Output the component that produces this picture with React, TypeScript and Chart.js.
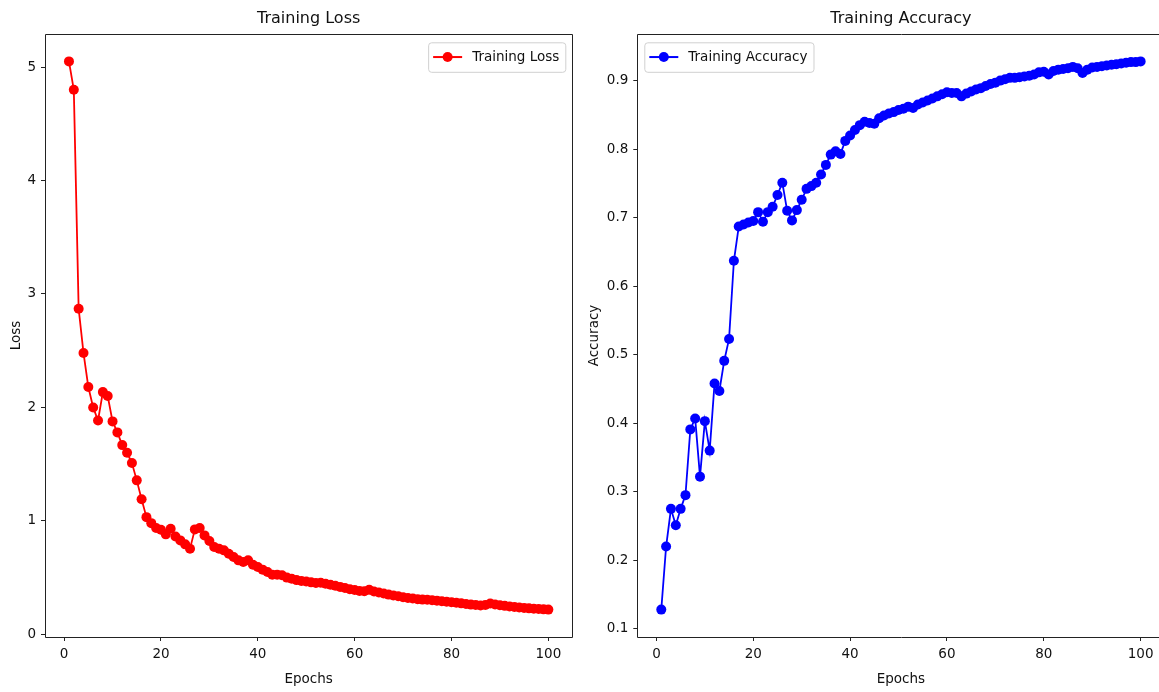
import React, { useEffect, useRef } from "react";
import { Chart, registerables } from "chart.js";

Chart.register(...registerables);

const EPOCHS = [
  1, 2, 3, 4, 5, 6, 7, 8, 9, 10, 11, 12, 13, 14, 15, 16, 17, 18, 19, 20,
  21, 22, 23, 24, 25, 26, 27, 28, 29, 30, 31, 32, 33, 34, 35, 36, 37, 38, 39, 40,
  41, 42, 43, 44, 45, 46, 47, 48, 49, 50, 51, 52, 53, 54, 55, 56, 57, 58, 59, 60,
  61, 62, 63, 64, 65, 66, 67, 68, 69, 70, 71, 72, 73, 74, 75, 76, 77, 78, 79, 80,
  81, 82, 83, 84, 85, 86, 87, 88, 89, 90, 91, 92, 93, 94, 95, 96, 97, 98, 99, 100,
];

const LOSS = [
  5.05, 4.8, 2.87, 2.48, 2.18, 2.0, 1.885, 2.135, 2.1, 1.877,
  1.78, 1.668, 1.6, 1.51, 1.357, 1.19, 1.033, 0.98, 0.937, 0.922,
  0.881, 0.93, 0.863, 0.828, 0.793, 0.755, 0.925, 0.937, 0.872, 0.822,
  0.769, 0.755, 0.74, 0.711, 0.681, 0.652, 0.637, 0.652, 0.614, 0.593,
  0.57, 0.549, 0.525, 0.526, 0.52, 0.5, 0.49, 0.478, 0.47, 0.465,
  0.458, 0.452, 0.455, 0.445, 0.437, 0.428, 0.418, 0.408, 0.398, 0.39,
  0.382, 0.38, 0.392, 0.378, 0.368, 0.36, 0.35, 0.342, 0.335, 0.327,
  0.32, 0.316, 0.31, 0.306, 0.304, 0.3, 0.297, 0.292, 0.287, 0.282,
  0.279, 0.273, 0.268, 0.262, 0.258, 0.255, 0.258, 0.272, 0.263, 0.256,
  0.251, 0.246, 0.241, 0.237, 0.233, 0.229, 0.226, 0.223, 0.22, 0.218,
];

const ACCURACY = [
  0.128, 0.22, 0.275, 0.251, 0.275, 0.295, 0.391, 0.407, 0.322, 0.403,
  0.36, 0.458, 0.447, 0.491, 0.523, 0.637, 0.687, 0.69, 0.693, 0.695,
  0.708, 0.694, 0.708, 0.716, 0.733, 0.751, 0.71, 0.696, 0.711, 0.726,
  0.742, 0.746, 0.751, 0.763, 0.777, 0.792, 0.797, 0.793, 0.812, 0.82,
  0.828, 0.835, 0.84, 0.838, 0.837, 0.845, 0.849, 0.852, 0.854, 0.857,
  0.859, 0.862, 0.86, 0.865, 0.868, 0.871, 0.874, 0.877, 0.88, 0.883,
  0.882, 0.882, 0.877, 0.881, 0.884, 0.887, 0.889, 0.892, 0.895, 0.897,
  0.9, 0.902, 0.904, 0.904, 0.905, 0.906, 0.907, 0.909, 0.912, 0.913,
  0.909, 0.914, 0.916, 0.917, 0.918, 0.92, 0.918, 0.911, 0.916, 0.919,
  0.92, 0.921, 0.922, 0.923, 0.924, 0.925, 0.926, 0.927, 0.927, 0.928,
];

const X_TICKS = [0, 20, 40, 60, 80, 100];
const LOSS_TICKS = [0, 1, 2, 3, 4, 5];
const ACC_TICKS = [0.1, 0.2, 0.3, 0.4, 0.5, 0.6, 0.7, 0.8, 0.9];

const FONT = "'DejaVu Sans', sans-serif";
const SMALL = 13.5;
const BIG = 16;
const INK = "#111111";

type PanelProps = {
  values: number[];
  color: string;
  title: string;
  yLabel: string;
  legendLabel: string;
  legendLoc: "left" | "right";
  yTicks: number[];
  yDecimals: number;
  canvasLeft: number;
  canvasWidth: number;
  axisWidth: number;
  padRight: number;
  yLabelX: number;
  drawRightSpine: boolean;
};

function margins(vals: number[]) {
  const lo = Math.min(...vals);
  const hi = Math.max(...vals);
  const m = (hi - lo) * 0.05;
  return [lo - m, hi + m];
}

function Panel(p: PanelProps) {
  const ref = useRef<HTMLCanvasElement | null>(null);

  useEffect(() => {
    const canvas = ref.current;
    if (!canvas) return;
    const [xmin, xmax] = margins(EPOCHS);
    const [ymin, ymax] = margins(p.values);

    const decor = {
      id: "decor",
      afterDraw(chart: any) {
        const ctx = chart.ctx as CanvasRenderingContext2D;
        const a = chart.chartArea;
        ctx.save();
        // spines
        const L = Math.round(a.left) + 0.5;
        const R = Math.round(a.right) + 0.5;
        const T = Math.round(a.top) + 0.5;
        const B = Math.round(a.bottom) + 0.5;
        ctx.strokeStyle = "#222222";
        ctx.lineWidth = 1;
        ctx.beginPath();
        ctx.moveTo(L, B);
        ctx.lineTo(L, T);
        ctx.lineTo(R, T);
        if (p.drawRightSpine) {
          ctx.lineTo(R, B);
        } else {
          ctx.moveTo(R, B);
        }
        ctx.lineTo(L, B);
        ctx.stroke();
        const cx = (a.left + a.right) / 2;
        // title
        ctx.fillStyle = INK;
        ctx.font = `${BIG}px ${FONT}`;
        ctx.textAlign = "center";
        ctx.textBaseline = "middle";
        ctx.fillText(p.title, cx, 18.5);
        // x label
        ctx.font = `${SMALL}px ${FONT}`;
        ctx.fillText("Epochs", cx, 679);
        // y label
        ctx.save();
        ctx.translate(p.yLabelX, (a.top + a.bottom) / 2);
        ctx.rotate(-Math.PI / 2);
        ctx.fillText(p.yLabel, 0, 0);
        ctx.restore();
        // legend
        ctx.font = `${SMALL}px ${FONT}`;
        const tw = ctx.measureText(p.legendLabel).width;
        const bw = 44 + tw + 6;
        const bh = 29.5;
        const bx = p.legendLoc === "right" ? a.right - 7 - bw : a.left + 7;
        const by = a.top + 8.3;
        ctx.beginPath();
        if ((ctx as any).roundRect) {
          (ctx as any).roundRect(bx + 0.5, by + 0.5, bw, bh, 3);
        } else {
          ctx.rect(bx + 0.5, by + 0.5, bw, bh);
        }
        ctx.fillStyle = "rgba(255,255,255,0.8)";
        ctx.fill();
        ctx.strokeStyle = "#d0d0d0";
        ctx.lineWidth = 1;
        ctx.stroke();
        const ly = by + bh / 2;
        ctx.strokeStyle = p.color;
        ctx.lineWidth = 2;
        ctx.beginPath();
        ctx.moveTo(bx + 5, ly);
        ctx.lineTo(bx + 34, ly);
        ctx.stroke();
        ctx.fillStyle = p.color;
        ctx.beginPath();
        ctx.arc(bx + 19.5, ly, 5, 0, Math.PI * 2);
        ctx.fill();
        ctx.fillStyle = INK;
        ctx.textAlign = "left";
        ctx.textBaseline = "middle";
        ctx.fillText(p.legendLabel, bx + 44, ly + 0.5);
        ctx.restore();
      },
    };

    const chart = new Chart(canvas, {
      type: "line",
      data: {
        datasets: [
          {
            label: p.legendLabel,
            data: EPOCHS.map((e, i) => ({ x: e, y: p.values[i] })),
            borderColor: p.color,
            backgroundColor: p.color,
            borderWidth: 1.8,
            pointRadius: 5,
            pointHoverRadius: 5,
            pointBorderWidth: 0,
            pointBackgroundColor: p.color,
            pointBorderColor: p.color,
            tension: 0,
            fill: false,
          },
        ],
      },
      options: {
        responsive: false,
        animation: false,
        events: [],
        layout: { padding: { left: 0, top: 34, right: p.padRight, bottom: 0 } },
        plugins: {
          legend: { display: false },
          title: { display: false },
          tooltip: { enabled: false },
        },
        scales: {
          x: {
            type: "linear",
            min: xmin,
            max: xmax,
            afterBuildTicks: (s: any) => {
              s.ticks = X_TICKS.map((v) => ({ value: v }));
            },
            afterFit: (s: any) => {
              s.height = 55;
              s.paddingLeft = 0;
              s.paddingRight = 0;
            },
            grid: {
              drawOnChartArea: false,
              drawTicks: true,
              tickLength: 4,
              color: "#222222",
              lineWidth: 1,
            },
            border: { display: false },
            ticks: {
              autoSkip: false,
              maxRotation: 0,
              minRotation: 0,
              padding: 5,
              color: INK,
              font: { family: FONT, size: SMALL },
              callback: (v: any) => String(v),
            },
          },
          y: {
            type: "linear",
            min: ymin,
            max: ymax,
            afterBuildTicks: (s: any) => {
              s.ticks = p.yTicks.map((v) => ({ value: v }));
            },
            afterFit: (s: any) => {
              s.width = p.axisWidth;
              s.paddingTop = 0;
              s.paddingBottom = 0;
            },
            grid: {
              drawOnChartArea: false,
              drawTicks: true,
              tickLength: 4,
              color: "#222222",
              lineWidth: 1,
            },
            border: { display: false },
            ticks: {
              autoSkip: false,
              padding: 5,
              color: INK,
              font: { family: FONT, size: SMALL },
              callback: (v: any) => Number(v).toFixed(p.yDecimals),
            },
          },
        },
      },
      plugins: [decor],
    } as any);

    return () => {
      chart.destroy();
    };
  }, []);

  return (
    <canvas
      ref={ref}
      width={p.canvasWidth}
      height={692}
      style={{
        position: "absolute",
        left: p.canvasLeft,
        top: 0,
        width: p.canvasWidth,
        height: 692,
        display: "block",
      }}
    />
  );
}

export default function App() {
  return (
    <div
      style={{
        position: "fixed",
        left: 0,
        top: 0,
        width: 1159,
        height: 692,
        overflow: "hidden",
        background: "#ffffff",
      }}
    >
      <Panel
        values={LOSS}
        color="#ff0000"
        title="Training Loss"
        yLabel="Loss"
        legendLabel="Training Loss"
        legendLoc="right"
        yTicks={LOSS_TICKS}
        yDecimals={0}
        canvasLeft={0}
        canvasWidth={580}
        axisWidth={45}
        padRight={7.7}
        yLabelX={16}
        drawRightSpine={true}
      />
      <Panel
        values={ACCURACY}
        color="#0000ff"
        title="Training Accuracy"
        yLabel="Accuracy"
        legendLabel="Training Accuracy"
        legendLoc="left"
        yTicks={ACC_TICKS}
        yDecimals={1}
        canvasLeft={580}
        canvasWidth={640}
        axisWidth={57.3}
        padRight={55.4}
        yLabelX={14}
        drawRightSpine={false}
      />
    </div>
  );
}
